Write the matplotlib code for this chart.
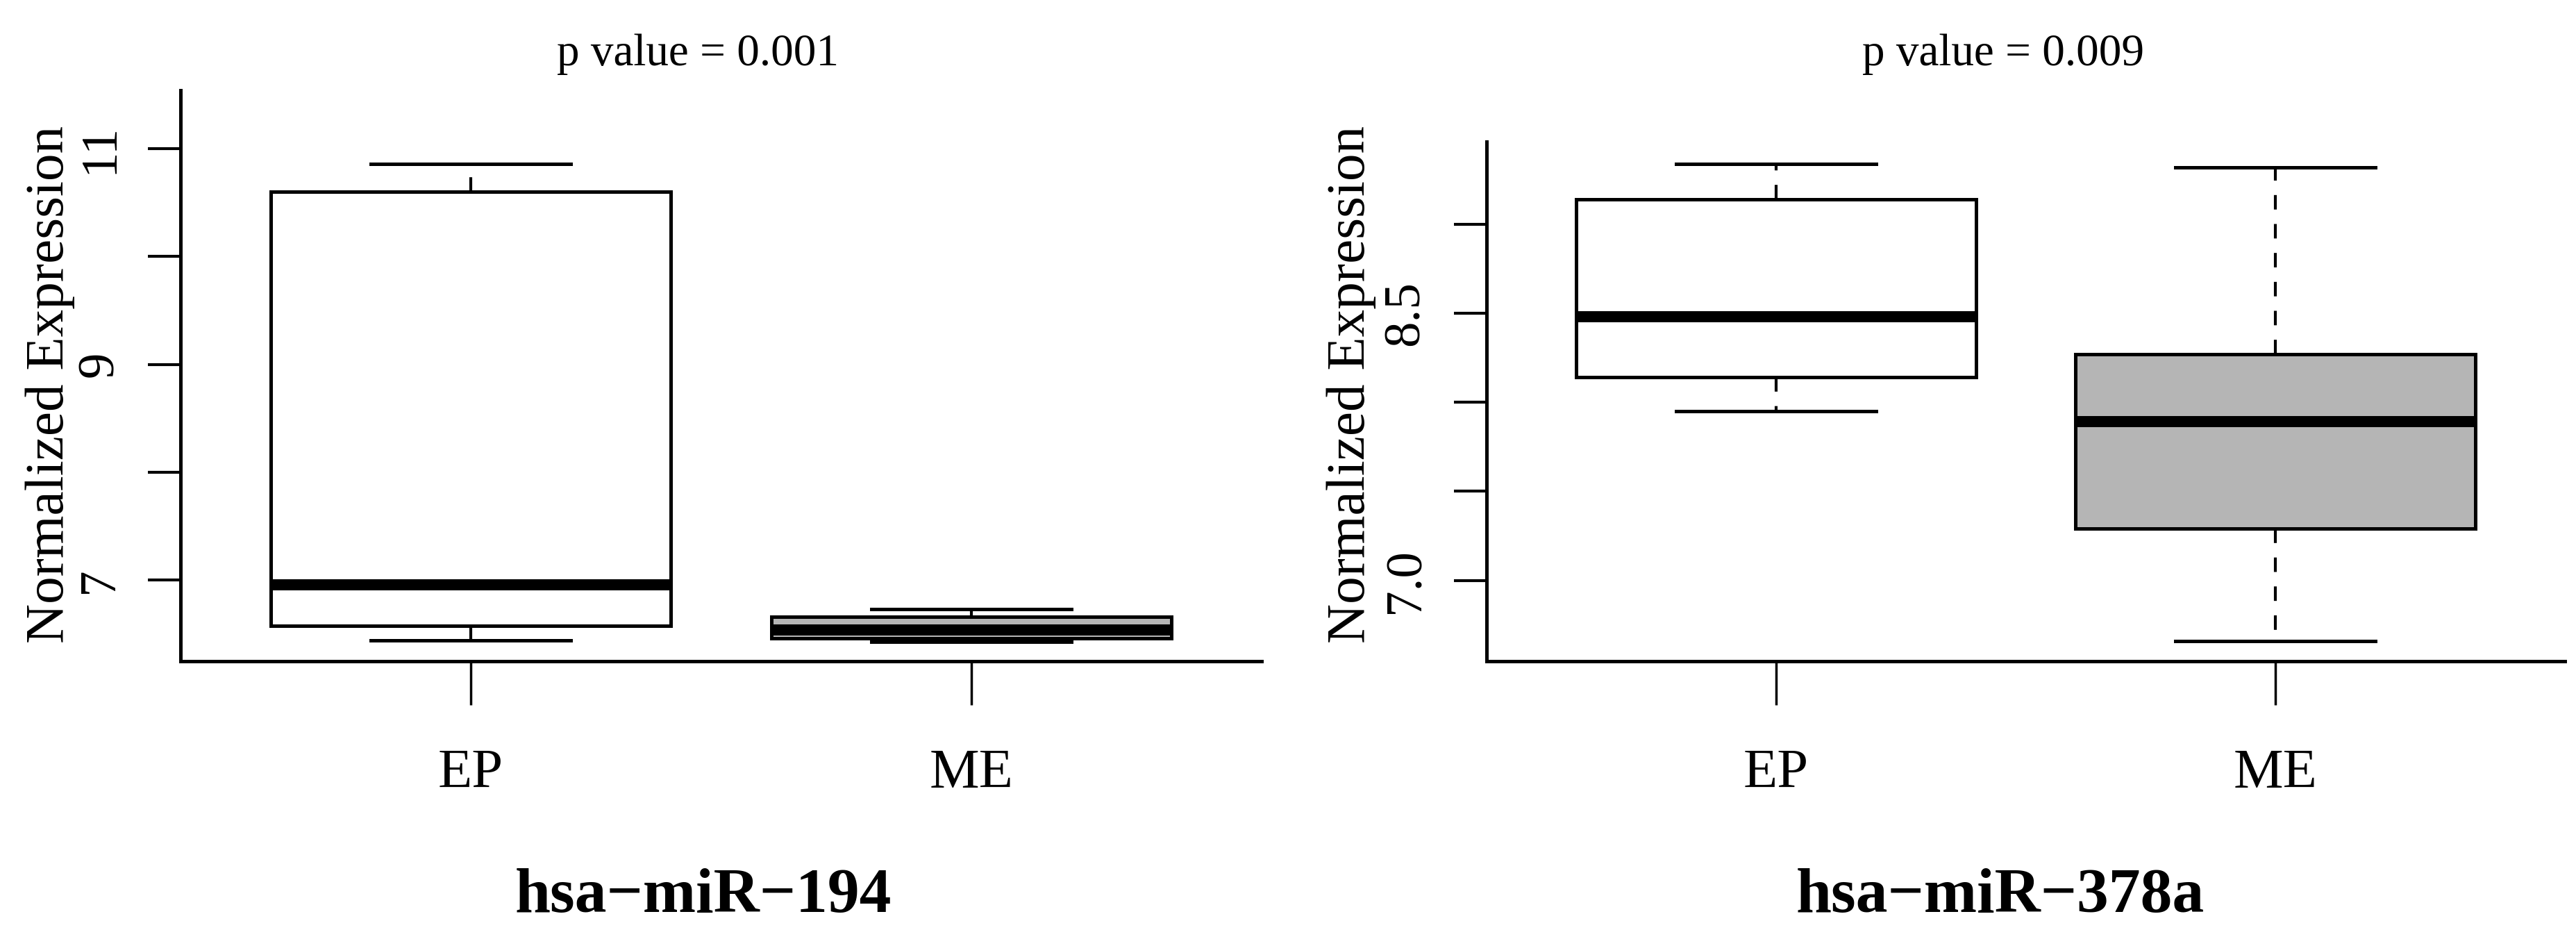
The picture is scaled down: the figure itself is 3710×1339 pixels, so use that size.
import matplotlib
matplotlib.use("Agg")
import matplotlib.pyplot as plt

plt.rcParams['font.family'] = ['Liberation Serif', 'DejaVu Serif']

# ---- data ----
groups = ["EP", "ME"]

mir194_whislo = [6.44, 6.43]
mir194_q1     = [6.58, 6.46]
mir194_med    = [6.96, 6.54]
mir194_q3     = [10.60, 6.66]
mir194_whishi = [10.86, 6.73]

mir378_whislo = [7.95, 6.66]
mir378_q1     = [8.14, 7.29]
mir378_med    = [8.48, 7.89]
mir378_q3     = [9.14, 8.27]
mir378_whishi = [9.34, 9.32]

titles = ["p value = 0.001", "p value = 0.009"]
names = ["hsa\u2212miR\u2212194", "hsa\u2212miR\u2212378a"]
ylabel = "Normalized Expression"

yticks_194 = [7, 8, 9, 10, 11]
yticklabels_194 = ["7", "", "9", "", "11"]
yticks_378 = [7.0, 7.5, 8.0, 8.5, 9.0]
yticklabels_378 = ["7.0", "", "", "8.5", ""]

fills = ["white", "#b5b5b5"]

# ---- figure ----
W, H = 3710, 1339
fig = plt.figure(figsize=(W / 100, H / 100), dpi=100)


def px_axes(x0, x1, ytop, ybot):
    return fig.add_axes([x0 / W, 1 - ybot / H, (x1 - x0) / W, (ybot - ytop) / H])


ax1 = px_axes(260, 1817, 130, 952)
ax2 = px_axes(2141, 3694, 204, 952)

LW = 3.6


def draw(ax, lo, q1, med, q3, hi, ylim, yt, ytl):
    stats = []
    for i, g in enumerate(groups):
        stats.append(dict(label=g, whislo=lo[i], q1=q1[i], med=med[i],
                          q3=q3[i], whishi=hi[i], fliers=[]))
    bp = ax.bxp(stats, positions=[1, 2], widths=0.8, patch_artist=True,
                showfliers=False, capwidths=0.4,
                boxprops=dict(linewidth=LW, edgecolor="black"),
                medianprops=dict(linewidth=11.5, color="black", solid_capstyle="butt"),
                whiskerprops=dict(linewidth=3.0, color="black", linestyle=(0, (5, 5))),
                capprops=dict(linewidth=LW, color="black"))
    for patch, c in zip(bp["boxes"], fills):
        patch.set_facecolor(c)
    ax.set_xlim(0.42, 2.58)
    ax.set_ylim(*ylim)
    ax.set_yticks(yt)
    ax.set_yticklabels(ytl, rotation=90, va="center")
    ax.set_xticks([1, 2])
    ax.set_xticklabels(groups)
    for s in ["top", "right"]:
        ax.spines[s].set_visible(False)
    for s in ["left", "bottom"]:
        ax.spines[s].set_linewidth(LW)
    ax.tick_params(axis="y", length=34, width=3, pad=25, labelsize=54)
    ax.tick_params(axis="x", length=45, width=2.5, pad=46, labelsize=58)


draw(ax1, mir194_whislo, mir194_q1, mir194_med, mir194_q3, mir194_whishi,
     (6.25, 11.54), yticks_194, yticklabels_194)
draw(ax2, mir378_whislo, mir378_q1, mir378_med, mir378_q3, mir378_whishi,
     (6.546, 9.463), yticks_378, yticklabels_378)

# titles, y labels and gene names
fig.text(1005 / W, 1 - 94 / H, titles[0], ha="center", va="baseline", fontsize=47)
fig.text(2885 / W, 1 - 94 / H, titles[1], ha="center", va="baseline", fontsize=47)
fig.text(72 / W, 1 - 553 / H, ylabel, rotation=90, ha="center", va="center", fontsize=57)
fig.text(1946 / W, 1 - 553 / H, ylabel, rotation=90, ha="center", va="center", fontsize=57)
fig.text(1013 / W, 1 - 1313 / H, names[0], ha="center", va="baseline",
         fontsize=66, fontweight="bold")
fig.text(2881 / W, 1 - 1313 / H, names[1], ha="center", va="baseline",
         fontsize=66, fontweight="bold")

fig.savefig("out.png", dpi=100, facecolor="white")
